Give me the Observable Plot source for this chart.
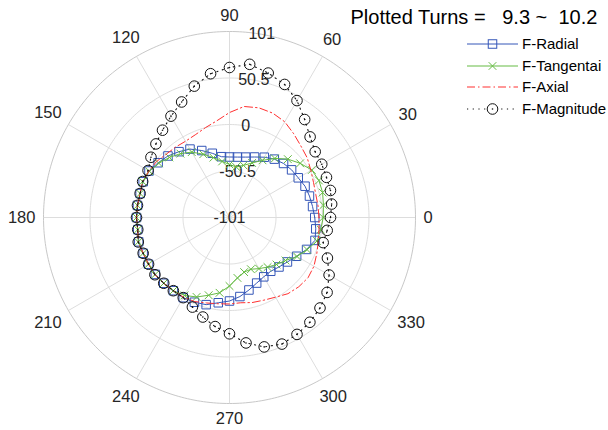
<!DOCTYPE html>
<html><head><meta charset="utf-8">
<script src="https://cdn.jsdelivr.net/npm/d3@7"></script>
<script src="https://cdn.jsdelivr.net/npm/@observablehq/plot@0.6"></script>
<style>
html,body{margin:0;padding:0;background:#fff;}
#wrap{position:relative;width:608px;height:430px;overflow:hidden;font-family:"Liberation Sans",Arial,sans-serif;}
#wrap svg{position:absolute;left:0;top:0;}
</style></head><body><div id="wrap"></div>
<script>
// ---- data (angles in degrees, values in radial-axis units) ----
const angles = [0,7.5,15,22.5,30,37.5,45,52.5,60,67.5,75,82.5,90,97.5,105,112.5,120,127.5,135,142.5,150,157.5,165,172.5,180,187.5,195,202.5,210,217.5,225,232.5,240,247.5,255,262.5,270,277.5,285,292.5,300,307.5,315,322.5,330,337.5,345,352.5];
const radial = [-8.4,-10.0,-11.1,-12.2,-14.8,-16.0,-18.0,-21.1,-25.4,-29.9,-33.1,-34.8,-35.3,-34.4,-28.8,-22.3,-15.2,-10.9,-6.5,-3.3,
  0.0,0.5,-0.5,-0.2,0.0,-0.5,1.1,0.5,0.5,0.5,0.0,-0.8,-0.5,
  -1.4,-3.0,-7.6,-10.3,-14.4,-19.5,-23.9,-26.6,-27.4,-25.0,-21.7,-16.8,-10.4,-4.9,-6.5];
const tangential = [0.8,1.9,3.7,4.1,2.2,-4.3,-11.4,-20.1,-29.3,-36.9,-42.4,-45.6,-43.4,-39.6,-33.7,-26.6,-19.0,-13.6,-8.7,-4.3,-0.5,
  1.1,-0.5,-0.2,0.0,-0.5,1.6,0.5,0.5,1.1,0.0,-0.8,
  -3.3,-7.6,-13.6,-18.5,-26.6,-34.8,-39.6,-40.2,-36.9,-33.1,-28.8,-24.3,-16.3,-9.8,-2.6,-1.1];
const axial = [-3.8,-4.0,-4.0,-2.2,1.1,5.4,8.7,13.6,19.0,21.7,22.3,20.6,13.0,4.9,0.0,-3.8,-5.4,-4.7,-3.8,-1.1,0.0,
  1.1,-0.5,-0.2,0.0,-0.5,1.6,0.5,0.5,1.1,0.0,-0.8,
  -1.1,-2.2,-4.9,-6.5,-7.1,-7.6,-5.4,-3.8,-1.1,3.3,5.4,6.5,4.9,1.6,-1.1,-3.0];
const magnitude = [8.7,10.9,12.5,13.0,14.7,16.3,22.8,33.1,45.6,55.4,61.4,66.8,61.9,56.5,46.7,34.8,26.1,18.5,12.0,6.5,1.1,
  1.1,-0.5,-0.2,0.0,-0.5,1.6,0.5,0.5,1.1,0.0,-0.8,-0.5,
  4.3,10.9,18.5,25.3,36.4,44.5,47.8,45.6,42.4,38.0,32.6,23.9,14.1,4.3,6.0];

const rMin = -101, rMax = 101;
const rTicks = [-101, -50.5, 0, 50.5, 101];
const rTickLabels = ["-101", "-50.5", "0", "50.5", "101"];
const thetaTicks = [0,30,60,90,120,150,180,210,240,270,300,330];
const rLabelAngle = 80;
const titleText = "Plotted Turns =   9.3 ~  10.2";
const seriesNames = ["F-Radial", "F-Tangentai", "F-Axial", "F-Magnitude"];
const colors = {radial:"#3456b8", tangential:"#66bb44", axial:"#ff3030", magnitude:"#111111"};

// ---- layout ----
const W = 608, H = 430, cx = 229, cy = 217, Rpx = 186;
const span = rMax - rMin;
const k = span / Rpx; // data units per pixel
const rad = d => d * Math.PI / 180;
const px = d => (d.v - rMin) * Math.cos(rad(d.theta));
const py = d => (d.v - rMin) * Math.sin(rad(d.theta));

const toPts = vals => angles.map((t, i) => ({theta: t, v: vals[i]}));
const closed = p => p.concat([p[0]]);
const pR = toPts(radial), pT = toPts(tangential), pA = toPts(axial), pM = toPts(magnitude);

// grid rings
const ringPts = [];
rTicks.slice(1).forEach((t, j) => {
  for (let a = 0; a <= 360; a += 1) ringPts.push({ring: j, outer: t === rMax, theta: a, v: t});
});
const spokes = thetaTicks.map(t => ({theta: t}));
const thetaLabels = thetaTicks.map(t => {
  const s = String(t);
  const halfW = s.length * 4.6, halfH = 7.5;
  const c = Math.cos(rad(t)), sn = Math.sin(rad(t));
  const off = 8 + halfW * Math.abs(c) + halfH * Math.abs(sn);
  const r = (Rpx + off) * k;
  return {x: r * c, y: r * sn, text: s};
});
const rLabels = rTicks.map((t, i) => ({theta: rLabelAngle, v: t, text: rTickLabels[i]}));

const chart = Plot.plot({
  width: W, height: H,
  marginLeft: cx - Rpx, marginRight: W - (cx + Rpx),
  marginTop: cy - Rpx, marginBottom: H - (cy + Rpx),
  x: {domain: [-span, span], axis: null},
  y: {domain: [-span, span], axis: null},
  style: {fontFamily: "Liberation Sans, Arial, sans-serif", background: "transparent"},
  marks: [
    Plot.link(spokes, {x1: () => 0, y1: () => 0, x2: d => span * Math.cos(rad(d.theta)), y2: d => span * Math.sin(rad(d.theta)), stroke: "#dddddd", strokeWidth: 1}),
    Plot.line(ringPts.filter(d => !d.outer), {x: px, y: py, z: "ring", stroke: "#dddddd", strokeWidth: 1}),
    Plot.line(ringPts.filter(d => d.outer), {x: px, y: py, z: "ring", stroke: "#c8c8c8", strokeWidth: 1}),
    Plot.text(thetaLabels, {x: "x", y: "y", text: "text", fontSize: 16.5, fill: "#262626", textAnchor: "middle", lineAnchor: "middle"}),
    Plot.text(rLabels, {x: px, y: py, text: "text", fontSize: 16, fill: "#262626", textAnchor: "middle", lineAnchor: "middle"}),
    // series
    Plot.line(closed(pR), {x: px, y: py, stroke: colors.radial, strokeWidth: 1}),
    Plot.dot(pR, {x: px, y: py, symbol: "square", r: 4.8, stroke: colors.radial, strokeWidth: 1, fill: "none"}),
    Plot.line(closed(pT), {x: px, y: py, stroke: colors.tangential, strokeWidth: 1}),
    Plot.dot(pT, {x: px, y: py, symbol: "times", r: 3.6, stroke: colors.tangential, strokeWidth: 1}),
    Plot.line(closed(pA), {x: px, y: py, stroke: colors.axial, strokeWidth: 1, strokeDasharray: "8,3,1.5,3"}),
    Plot.line(closed(pM), {x: px, y: py, stroke: colors.magnitude, strokeWidth: 1.1, strokeDasharray: "1.2,4.5"}),
    Plot.dot(pM, {x: px, y: py, symbol: "circle", r: 5.3, stroke: colors.magnitude, strokeWidth: 1, fill: "none"}),
    Plot.dot(pM, {x: px, y: py, r: 0.8, fill: colors.magnitude, stroke: "none"})
  ]
});
document.getElementById("wrap").appendChild(chart);

// ---- title & legend overlay ----
const ov = d3.select("#wrap").append("svg").attr("width", W).attr("height", H)
  .style("font-family", "Liberation Sans, Arial, sans-serif");
ov.append("text").attr("x", 350.5).attr("y", 24).attr("font-size", 20).attr("fill", "#000")
  .style("white-space", "pre").attr("xml:space", "preserve").text(titleText);

const rowsY = [44, 66, 87, 109];
const lx1 = 467, lx2 = 518, lm = 492.5, ltx = 522;
const legendStyle = [
  {color: colors.radial, dash: "none", marker: "square", w: 1},
  {color: colors.tangential, dash: "none", marker: "times", w: 1.2},
  {color: colors.axial, dash: "8,3,1.5,3", marker: null, w: 1.2},
  {color: colors.magnitude, dash: "1.2,4.5", marker: "circle", w: 1}
];
seriesNames.forEach((name, i) => {
  const y = rowsY[i], s = legendStyle[i];
  ov.append("line").attr("x1", lx1).attr("x2", lx2).attr("y1", y).attr("y2", y)
    .style("stroke", s.color).style("stroke-width", s.w + "px").style("stroke-dasharray", s.dash);
  if (s.marker === "square") {
    ov.append("rect").attr("x", lm - 4.25).attr("y", y - 4.25).attr("width", 8.5).attr("height", 8.5)
      .style("fill", "none").style("stroke", s.color);
  } else if (s.marker === "times") {
    ov.append("path").attr("d", `M${lm-3.8},${y-3.8}L${lm+3.8},${y+3.8}M${lm-3.8},${y+3.8}L${lm+3.8},${y-3.8}`)
      .style("stroke", s.color).style("fill", "none");
  } else if (s.marker === "circle") {
    ov.append("circle").attr("cx", lm).attr("cy", y).attr("r", 5.3).style("fill", "#fff").style("stroke", s.color);
    ov.append("circle").attr("cx", lm).attr("cy", y).attr("r", 0.8).style("fill", s.color);
  }
  ov.append("text").attr("x", ltx).attr("y", y + 5.3).attr("font-size", 15).attr("fill", "#000").text(name);
});
</script>
</body></html>
